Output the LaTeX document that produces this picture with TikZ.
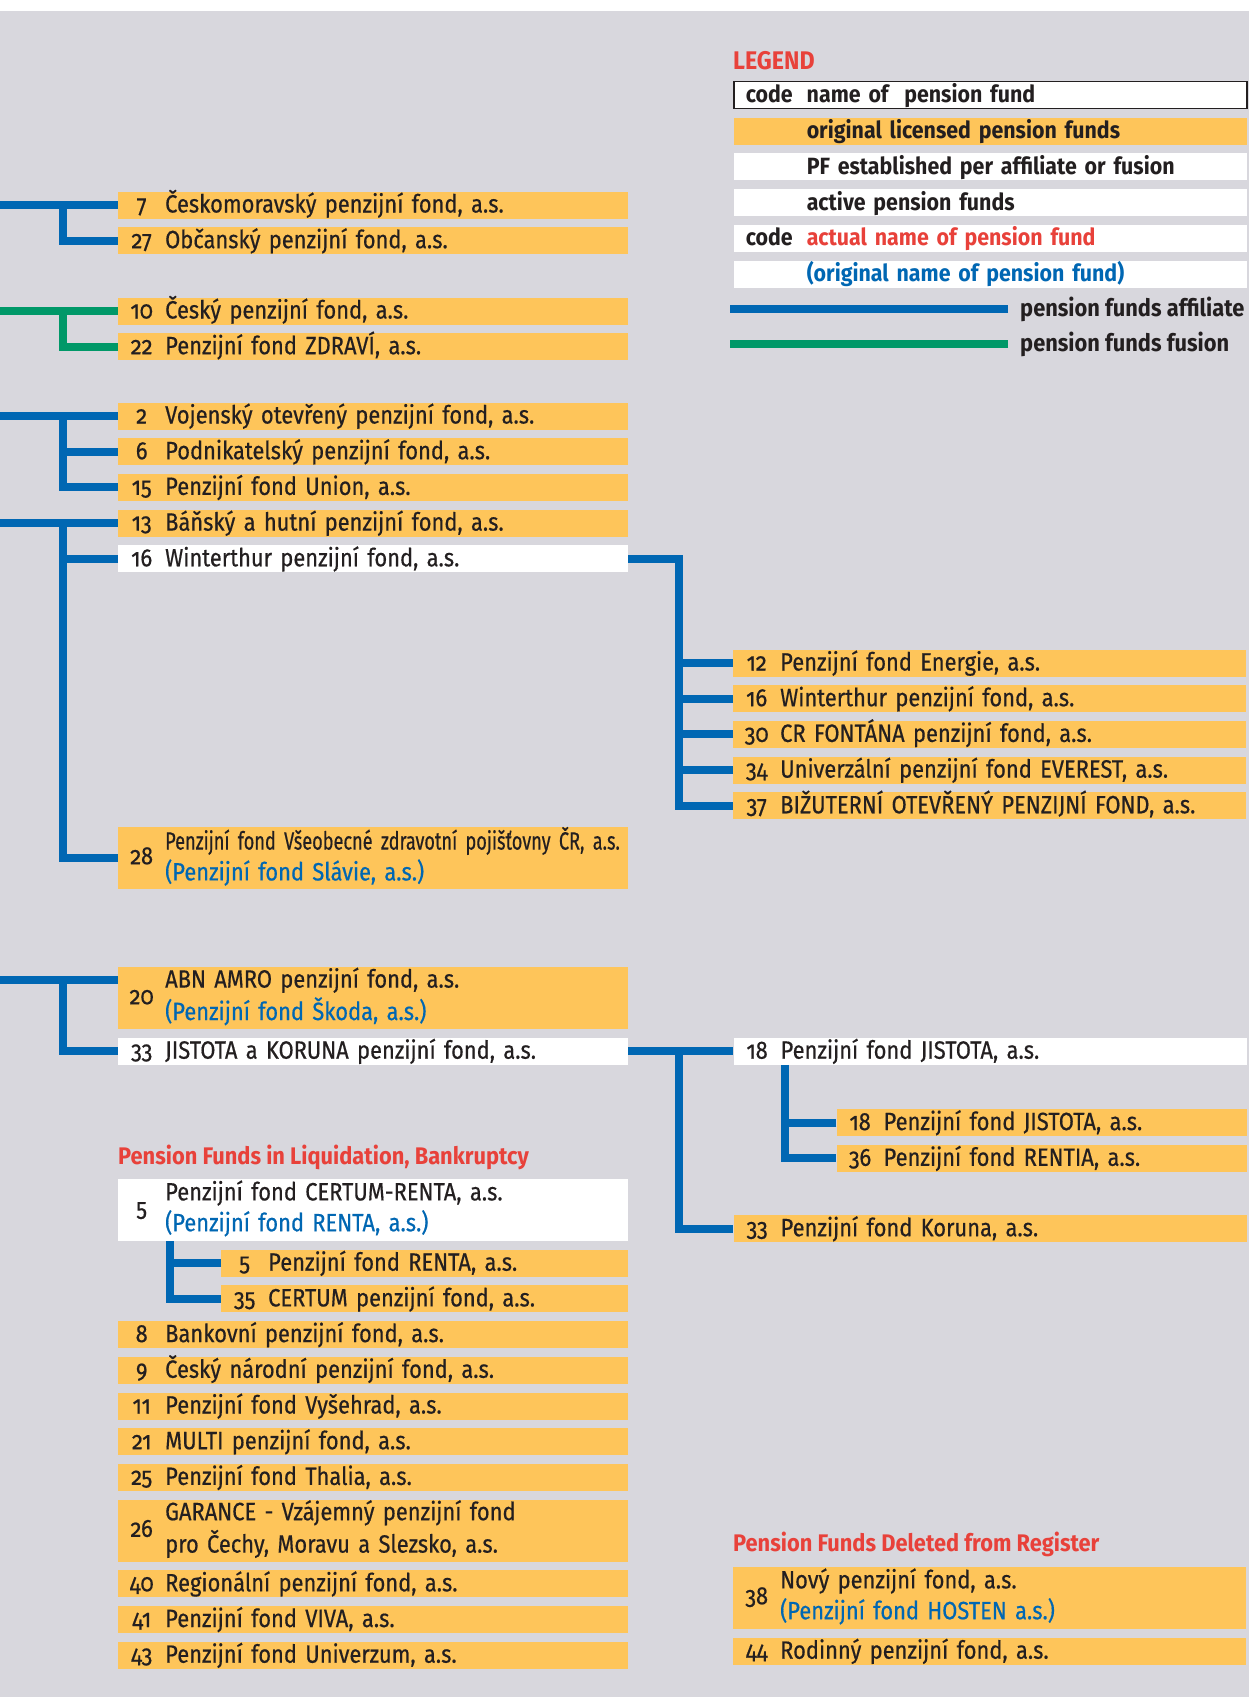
\documentclass[tikz,border=0pt]{standalone}
\usepackage{fontspec}
\setmainfont{Fira Sans}[Numbers=OldStyle, FakeStretch=0.875, UprightFeatures={FakeBold=0.5}]
\newfontfamily\narrowfont{Fira Sans}[Numbers=OldStyle, FakeStretch=0.725, UprightFeatures={FakeBold=0.5}]
\newfontfamily\widefont{Fira Sans}[Numbers=OldStyle, FakeStretch=0.91]
\usetikzlibrary{positioning, calc}
\definecolor{pfgray}{RGB}{216,215,221}
\definecolor{pfyellow}{RGB}{254,197,90}
\definecolor{pfblue}{RGB}{0,103,179}
\definecolor{pfgreen}{RGB}{0,152,104}
\definecolor{pfred}{RGB}{232,65,58}
\definecolor{pftext}{RGB}{35,31,32}
\newcommand{\fund}[2]{\noindent\makebox[47pt]{#1}#2}
\newcommand{\fundtwo}[3]{\noindent\makebox[47pt]{#1}\begin{tabular}[c]{@{}l@{}}#2\\[1pt]#3\end{tabular}}
\newcommand{\orig}[1]{\textcolor{pfblue}{#1}}
\newcommand{\lgrow}[2]{\noindent\hspace*{12pt}\makebox[61pt][l]{#1}#2}

\begin{document}
\begin{tikzpicture}[x=1pt, y=-1pt,
    pfbox/.style={rectangle, fill=pfyellow, inner sep=0pt, minimum width=510pt, text width=510pt, align=left, text=pftext, font=\fontsize{25}{29}\selectfont},
    fund/.style={pfbox, minimum height=27pt, text height=19pt, text depth=4pt},
    fundii/.style={pfbox, minimum height=62pt},
    active/.style={fill=white},
    subfund/.style={minimum width=407pt, text width=407pt},
    subright/.style={minimum width=410pt, text width=410pt},
    rightfund/.style={minimum width=513pt, text width=513pt},
    legendrow/.style={fund, rightfund, active, font=\widefont\fontsize{23.5}{28}\selectfont\bfseries},
    head/.style={anchor=west, inner sep=0pt, text=pfred, font=\widefont\fontsize{24}{28}\selectfont\bfseries},
    affil/.style={draw=pfblue, line width=8pt},
    fusion/.style={affil, draw=pfgreen}]

    \fill[white] (0,0) rectangle (1249,1697);
    \fill[pfgray] (0,11) rectangle (1249,1697);
    \useasboundingbox (0,0) rectangle (1249,1697);
    \coordinate (edge) at (0,0);

    % legend
    \node[head, font=\widefont\fontsize{25.5}{28}\selectfont\bfseries] (legend) at (733,61) {LEGEND};
    \node[legendrow, draw=pftext, line width=1.5pt, anchor=west] (lg1) at (733,95) {\lgrow{code}{name of~ pension fund}};
    \node[legendrow, fill=pfyellow, below=8.3pt of lg1] (lg2) {\lgrow{}{original licensed pension funds}};
    \node[legendrow, below=8.3pt of lg2] (lg3) {\lgrow{}{PF established per affiliate or fusion}};
    \node[legendrow, below=8.3pt of lg3] (lg4) {\lgrow{}{active pension funds}};
    \node[legendrow, below=8.3pt of lg4] (lg5) {\lgrow{code}{\textcolor{pfred}{actual name of pension fund}}};
    \node[legendrow, below=8.3pt of lg5] (lg6) {\lgrow{}{\orig{(original name of pension fund)}}};
    \node[anchor=west, inner sep=0pt, text=pftext, font=\widefont\fontsize{24}{28}\selectfont\bfseries] (laff) at (1020,309) {pension funds affiliate};
    \node[anchor=west, inner sep=0pt, text=pftext, font=\widefont\fontsize{24}{28}\selectfont\bfseries] (lfus) at (1020,344) {pension funds fusion};
    \draw[affil] ($(laff.west)+(-12,0)$) -- ($(laff.west)+(-290,0)$);
    \draw[fusion] ($(lfus.west)+(-12,0)$) -- ($(lfus.west)+(-290,0)$);

    % left column
    \node[fund, anchor=west] (f7) at (118,205) {\fund{7}{Českomoravský penzijní fond, a.s.}};
    \node[fund, below=8.3pt of f7] (f27) {\fund{27}{Občanský penzijní fond, a.s.}};
    \node[fund, anchor=west] (f10) at (118,311) {\fund{10}{Český penzijní fond, a.s.}};
    \node[fund, below=8.3pt of f10] (f22) {\fund{22}{Penzijní fond ZDRAVÍ, a.s.}};
    \node[fund, anchor=west] (f2) at (118,416) {\fund{2}{Vojenský otevřený penzijní fond, a.s.}};
    \node[fund, below=8.3pt of f2] (f6) {\fund{6}{Podnikatelský penzijní fond, a.s.}};
    \node[fund, below=8.3pt of f6] (f15) {\fund{15}{Penzijní fond Union, a.s.}};
    \node[fund, below=8.3pt of f15] (f13) {\fund{13}{Báňský a hutní penzijní fond, a.s.}};
    \node[fund, active, below=8.3pt of f13] (f16a) {\fund{16}{Winterthur penzijní fond, a.s.}};
    \node[fundii, anchor=west] (f28) at (118,858) {\fundtwo{28}{\narrowfont Penzijní fond Všeobecné zdravotní pojišťovny ČR, a.s.}{\orig{(Penzijní fond Slávie, a.s.)}}};
    \node[fundii, anchor=west] (f20) at (118,998) {\fundtwo{20}{ABN AMRO penzijní fond, a.s.}{\orig{(Penzijní fond Škoda, a.s.)}}};
    \node[fund, active, below=8.3pt of f20] (f33a) {\fund{33}{JISTOTA a KORUNA penzijní fond, a.s.}};
    \coordinate (f20in) at ($(f20.north west)+(0,13)$);

    \node[head] (liq) at (118,1157) {Pension Funds in Liquidation, Bankruptcy};
    \node[fundii, active, anchor=west] (f5a) at (118,1210) {\fundtwo{5}{Penzijní fond CERTUM-RENTA, a.s.}{\orig{(Penzijní fond RENTA, a.s.)}}};
    \node[fund, subfund, below left=8.3pt and 0pt of f5a.south east] (f5b) {\fund{5}{Penzijní fond RENTA, a.s.}};
    \node[fund, subfund, below=8.3pt of f5b] (f35) {\fund{35}{CERTUM penzijní fond, a.s.}};
    \node[fund, below left=8.3pt and 0pt of f35.south east] (f8) {\fund{8}{Bankovní penzijní fond, a.s.}};
    \node[fund, below=8.3pt of f8] (f9) {\fund{9}{Český národní penzijní fond, a.s.}};
    \node[fund, below=8.3pt of f9] (f11) {\fund{11}{Penzijní fond Vyšehrad, a.s.}};
    \node[fund, below=8.3pt of f11] (f21) {\fund{21}{MULTI penzijní fond, a.s.}};
    \node[fund, below=8.3pt of f21] (f25) {\fund{25}{Penzijní fond Thalia, a.s.}};
    \node[fundii, below=8.3pt of f25] (f26) {\fundtwo{26}{GARANCE - Vzájemný penzijní fond}{pro Čechy, Moravu a Slezsko, a.s.}};
    \node[fund, below=8.3pt of f26] (f40) {\fund{40}{Regionální penzijní fond, a.s.}};
    \node[fund, below=8.3pt of f40] (f41) {\fund{41}{Penzijní fond VIVA, a.s.}};
    \node[fund, below=8.3pt of f41] (f43) {\fund{43}{Penzijní fond Univerzum, a.s.}};

    % right column
    \node[fund, rightfund, anchor=west] (f12) at (733,663) {\fund{12}{Penzijní fond Energie, a.s.}};
    \node[fund, rightfund, below=8.3pt of f12] (f16b) {\fund{16}{Winterthur penzijní fond, a.s.}};
    \node[fund, rightfund, below=8.3pt of f16b] (f30) {\fund{30}{CR FONTÁNA penzijní fond, a.s.}};
    \node[fund, rightfund, below=8.3pt of f30] (f34) {\fund{34}{Univerzální penzijní fond EVEREST, a.s.}};
    \node[fund, rightfund, below=8.3pt of f34] (f37) {\fund{37}{BIŽUTERNÍ OTEVŘENÝ PENZIJNÍ FOND, a.s.}};
    \node[fund, rightfund, active, right=105pt of f33a] (f18a) {\fund{18}{Penzijní fond JISTOTA, a.s.}};
    \node[fund, subright, below left=44pt and 0pt of f18a.south east] (f18b) {\fund{18}{Penzijní fond JISTOTA, a.s.}};
    \node[fund, subright, below=8.3pt of f18b] (f36) {\fund{36}{Penzijní fond RENTIA, a.s.}};
    \node[fund, rightfund, below left=43pt and 0pt of f36.south east] (f33b) {\fund{33}{Penzijní fond Koruna, a.s.}};
    \node[head] (del) at (733,1544) {Pension Funds Deleted from Register};
    \node[fundii, rightfund, anchor=west] (f38) at (733,1598) {\fundtwo{38}{Nový penzijní fond, a.s.}{\orig{(Penzijní fond HOSTEN a.s.)}}};
    \node[fund, rightfund, below=8.3pt of f38] (f44) {\fund{44}{Rodinný penzijní fond, a.s.}};

    % affiliates and fusions
    \draw[affil] (edge |- f7.west) -- (f7.west);
    \draw[affil] (f7.west) ++(-55,0) |- (f27.west);
    \draw[fusion] (edge |- f10.west) -- (f10.west);
    \draw[fusion] (f10.west) ++(-55,0) |- (f22.west);
    \draw[affil] (edge |- f2.west) -- (f2.west);
    \draw[affil] (f2.west) ++(-55,0) |- (f15.west);
    \draw[affil] (f6.west) -- ++(-55,0);
    \draw[affil] (edge |- f13.west) -- (f13.west);
    \draw[affil] (f13.west) ++(-55,0) |- (f28.west);
    \draw[affil] (f16a.west) -- ++(-55,0);
    \draw[affil] (f16a.east) -- ++(51,0) |- (f37.west);
    \draw[affil] (f12.west) -- ++(-54,0);
    \draw[affil] (f16b.west) -- ++(-54,0);
    \draw[affil] (f30.west) -- ++(-54,0);
    \draw[affil] (f34.west) -- ++(-54,0);
    \draw[affil] (edge |- f20in) -- (f20in);
    \draw[affil] (f20in) ++(-55,0) |- (f33a.west);
    \draw[affil] (f33a.east) -- (f18a.west);
    \draw[affil] (f33a.east) ++(51,0) |- (f33b.west);
    \draw[affil] (f18a.south west) ++(52,0) |- (f36.west);
    \draw[affil] (f18b.west) -- ++(-51,0);
    \draw[affil] (f5a.south west) ++(52,0) |- (f35.west);
    \draw[affil] (f5b.west) -- ++(-51,0);
\end{tikzpicture}
\end{document}
